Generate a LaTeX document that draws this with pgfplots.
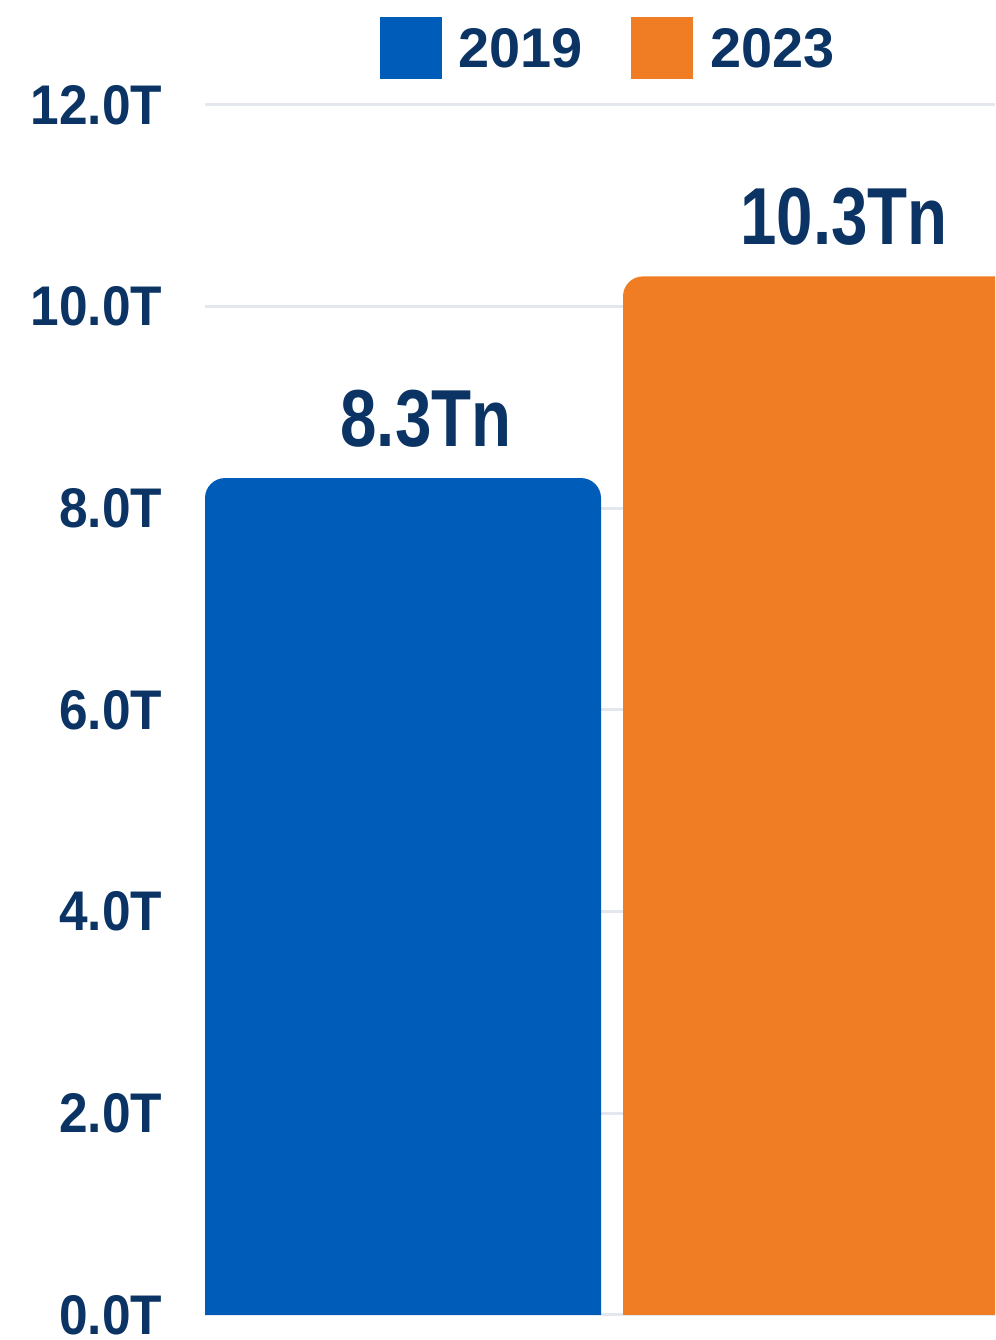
\documentclass[border=0pt]{standalone}
\usepackage{pgfplots}
\pgfplotsset{compat=1.18}
\usepackage{fontspec}
\setmainfont{Liberation Sans}
\newfontfamily\tickfont{Liberation Sans}[FakeStretch=0.92]
\newfontfamily\labfont{Liberation Sans}[FakeStretch=0.81]
\newlength\px
\setlength\px{0.2845pt}
\definecolor{barblue}{HTML}{005CB9}
\definecolor{barorange}{HTML}{F07C23}
\definecolor{navy}{HTML}{0B3464}
\definecolor{gridc}{HTML}{E4E7ED}
\newcommand\legsq[1]{{\color{#1}\rule[-11\px]{62\px}{62\px}}\hspace{17\px}}
\begin{document}
\begin{tikzpicture}
\begin{axis}[
  name=ax,
  scale only axis,
  width=790\px, height=1210\px,
  xmin=0, xmax=790,
  ymin=0, ymax=12,
  axis line style={draw=none},
  xtick=\empty,
  ytick={0,2,4,6,8,10,12},
  major tick length=0pt,
  ymajorgrids,
  grid style={gridc, line width=3\px},
  /pgf/number format/assume math mode=true,
  yticklabel={\pgfmathprintnumber[fixed,fixed zerofill,precision=1]{\tick}T},
  yticklabel style={font=\tickfont\bfseries\fontsize{15.9pt}{16pt}\selectfont, text=navy, inner sep=0pt, anchor=east, xshift=-42\px},
  legend columns=2,
  legend style={draw=none, fill=none, inner sep=0pt, at={(0.2203,1.0496)}, anchor=west,
    font=\bfseries\fontsize{15.9pt}{16pt}\selectfont, text=navy,
    nodes={inner sep=0pt},
    /tikz/every odd column/.append style={column sep=0pt},
    /tikz/every even column/.append style={column sep=48\px}},
  legend image code/.code={},
]
% bars: left edge, top at value, right edge; base below the visible range so only the top corners are rounded
\addplot[fill=barblue, draw=none, rounded corners=20\px] coordinates {(0,-1) (0,8.3) (396,8.3) (396,-1)};
\addlegendentry{\legsq{barblue}2019}
\addplot[fill=barorange, draw=none, rounded corners=20\px] coordinates {(418,-1) (418,10.3) (814,10.3) (814,-1)};
\addlegendentry{\legsq{barorange}2023}
% value labels
\addplot[draw=none, mark=none, forget plot,
  nodes near coords={\pgfmathprintnumber[fixed,precision=1]{\pgfplotspointmeta}Tn},
  nodes near coords style={font=\labfont\bfseries\fontsize{23pt}{24pt}\selectfont, text=navy, inner sep=0pt, anchor=south, yshift=30\px},
  point meta=y] coordinates {(221,8.3) (639,10.3)};
\end{axis}
\pgfresetboundingbox
\path[use as bounding box] ([xshift=-205\px,yshift=-25\px]ax.south west) rectangle ([yshift=105\px]ax.north east);
\end{tikzpicture}
\end{document}
